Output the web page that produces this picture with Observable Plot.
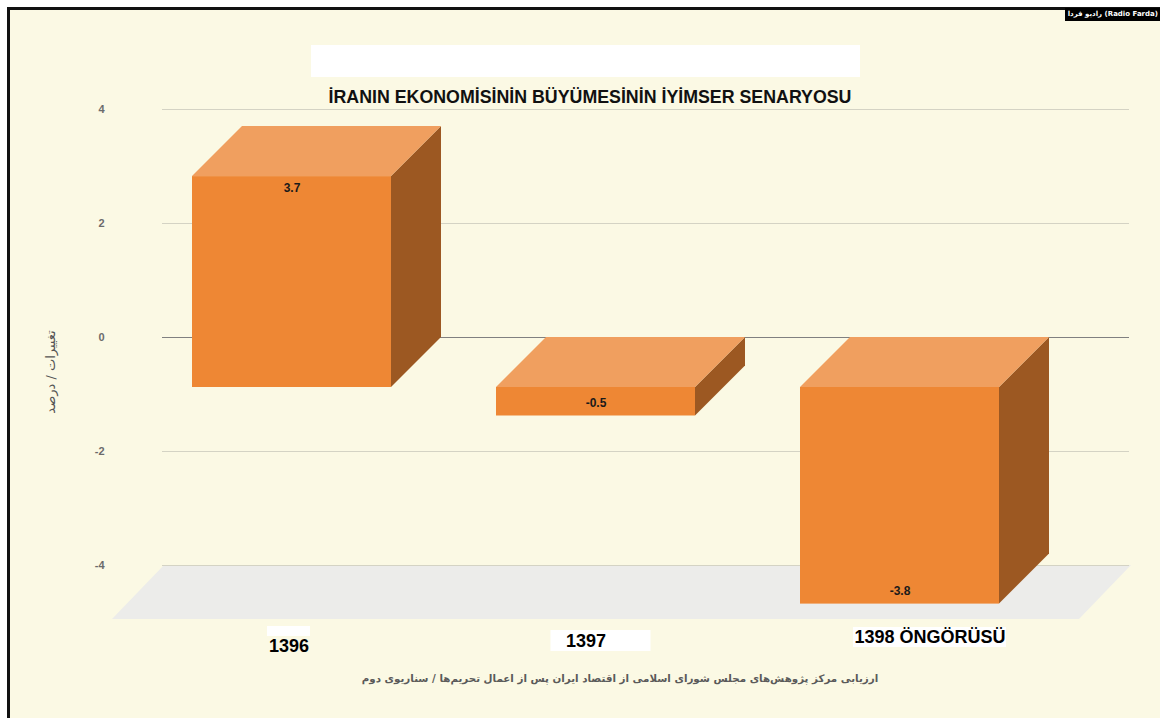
<!DOCTYPE html>
<html>
<head>
<meta charset="utf-8">
<script src="https://cdn.jsdelivr.net/npm/d3@7"></script>
<script src="https://cdn.jsdelivr.net/npm/@observablehq/plot@0.6"></script>
<style>
html, body { margin: 0; padding: 0; background: #ffffff; width: 1160px; height: 718px; overflow: hidden; }
#frame { position: absolute; left: 7px; top: 7px; width: 1153px; height: 711px; box-sizing: border-box;
  border-left: 3px solid #111; border-top: 3px solid #111; background: #FBF9E4; }
#chart { position: absolute; left: 0; top: 0; }
#titlebox { position: absolute; left: 311px; top: 45px; width: 549px; height: 32px; background: #ffffff; }
#title { position: absolute; left: 0; width: 1180px; top: 87px; text-align: center;
  font: bold 17.8px "Liberation Sans", Arial, sans-serif; color: #111; line-height: 20px; }
#caption { position: absolute; left: 0; width: 1240px; top: 669px; text-align: center;
  font: bold 10.3px "DejaVu Sans", sans-serif; color: #5a5a5a; line-height: 18px; }
#ylabel { position: absolute; left: 50px; top: 372px; transform: translate(-50%, -50%) rotate(-90deg);
  font: 13px "DejaVu Sans", sans-serif; color: #555; white-space: nowrap; }
#source { position: absolute; right: 0; top: 8px; height: 13px; padding: 0 2px 0 3px; background: #000;
  color: #fff; font: bold 7px "DejaVu Sans", Arial, sans-serif; line-height: 13px; white-space: nowrap; }
</style>
</head>
<body>
<div id="frame"></div>
<div id="titlebox"></div>
<div id="chart"></div>
<div id="title"></div>
<div id="ylabel" dir="rtl"></div>
<div id="caption" dir="rtl"></div>
<div id="source"></div>
<script>
// ---- data ----
const categories = ["1396", "1397", "1398 ÖNGÖRÜSÜ"];
const growth = [3.7, -0.5, -3.8];
const yTicks = [-4, -2, 0, 2, 4];
const titleText = "İRANIN EKONOMİSİNİN BÜYÜMESİNİN İYİMSER SENARYOSU";
const yLabel = "تغییرات / درصد";
const captionText = "ارزیابی مرکز پژوهش‌های مجلس شورای اسلامی از اقتصاد ایران پس از اعمال تحریم‌ها / سناریوی دوم";
const sourceText = "رادیو فردا (Radio Farda)";

// ---- styling ----
const DEPTH = 50;          // 3D offset of bars
const FLOOR_DX = 52, FLOOR_DY = 54;
const COLORS = { front: "#EE8734", top: "#F09F5F", side: "#9C5822", floor: "#ECECEA", grid: "#D4D3C4", zero: "#808080" };
// label placement / cover boxes (decoration)
const labelStyle = [
  { dx: -3, dy: 86, box: { dx: 0, dy: -25, w: 43, h: 10 } },
  { dx: -10, dy: 81, box: { dx: 15, dy: -16, w: 100, h: 21 } },
  { dx: 30, dy: 77, box: { dx: 0, dy: -15, w: 153, h: 20 } }
];

document.getElementById("title").textContent = titleText;
document.getElementById("caption").textContent = captionText;
document.getElementById("source").textContent = sourceText;
document.getElementById("ylabel").textContent = yLabel;

const data = categories.map((c, i) => ({ category: c, value: growth[i] }));

function bar3d(index, scales, values) {
  const g = d3.create("svg:g");
  const bw = scales.x.bandwidth();
  for (const i of index) {
    const x0 = values.x[i], x1 = x0 + bw;
    const ya = values.y1[i] + DEPTH, yb = values.y2[i] + DEPTH;
    const top = Math.min(ya, yb), bot = Math.max(ya, yb);
    g.append("polygon")
      .attr("points", [[x1, top], [x1 + DEPTH, top - DEPTH], [x1 + DEPTH, bot - DEPTH], [x1, bot]].join(" "))
      .attr("fill", COLORS.side);
    g.append("polygon")
      .attr("points", [[x0, top], [x0 + DEPTH, top - DEPTH], [x1 + DEPTH, top - DEPTH], [x1, top]].join(" "))
      .attr("fill", COLORS.top);
    g.append("rect")
      .attr("x", x0).attr("y", top).attr("width", bw).attr("height", bot - top)
      .attr("fill", COLORS.front);
  }
  return g.node();
}

function floor(index, scales, values, dims) {
  const g = d3.create("svg:g");
  const xl = dims.marginLeft, xr = dims.width - dims.marginRight;
  for (const i of index) {
    const y = values.y[i];
    g.append("polygon")
      .attr("points", [[xl + FLOOR_DX, y], [xr + FLOOR_DX, y], [xr, y + FLOOR_DY], [xl, y + FLOOR_DY]].join(" "))
      .attr("fill", COLORS.floor);
  }
  return g.node();
}

function categoryLabel(k) {
  const st = labelStyle[k];
  return Plot.text([categories[k]], {
    x: d => d, frameAnchor: "bottom", dx: st.dx, dy: st.dy,
    fontSize: 18, fontWeight: "bold", fill: "#000", fontFamily: "Liberation Sans, Arial, sans-serif",
    render(index, scales, values, dims, ctx, next) {
      const wrap = d3.create("svg:g");
      const bw = scales.x.bandwidth();
      for (const i of index) {
        const cx = values.x[i] + bw / 2 + st.dx + st.box.dx;
        const cy = dims.height - dims.marginBottom + st.dy + st.box.dy;
        wrap.append("rect").attr("x", cx - st.box.w / 2).attr("y", cy)
          .attr("width", st.box.w).attr("height", st.box.h).attr("fill", "#fff");
      }
      wrap.node().append(next(index, scales, values, dims, ctx));
      return wrap.node();
    }
  });
}

const chart = Plot.plot({
  width: 1160,
  height: 718,
  marginLeft: 112,
  marginRight: 81,
  marginTop: 109,
  marginBottom: 153,
  style: { background: "transparent", overflow: "visible" },
  x: { type: "band", domain: categories, paddingInner: 0.345, paddingOuter: 0.26, axis: null },
  y: { domain: [d3.min(yTicks), d3.max(yTicks)], axis: null },
  marks: [
    Plot.ruleY([d3.min(yTicks)], { render: floor }),
    Plot.ruleY(yTicks.filter(d => d !== 0), { dx: DEPTH, stroke: COLORS.grid, strokeWidth: 1 }),
    Plot.ruleY([0], { dx: DEPTH, stroke: COLORS.zero, strokeWidth: 1 }),
    Plot.axisY(yTicks, {
      anchor: "left", tickSize: 0, tickPadding: 8, label: null,
      tickFormat: d => String(d), fontSize: 11, fontWeight: "bold", fill: "#6b6b6b",
      fontFamily: "Liberation Sans, Arial, sans-serif"
    }),
    Plot.barY(data, { x: "category", y1: 0, y2: "value", render: bar3d }),
    Plot.text(data, {
      filter: d => d.value > 0, x: "category", y: "value", dy: DEPTH + 12,
      text: d => String(d.value), fontSize: 12, fontWeight: "bold", fill: "#1a1a1a",
      fontFamily: "Liberation Sans, Arial, sans-serif"
    }),
    Plot.text(data, {
      filter: d => d.value < 0, x: "category", y: "value", dy: DEPTH - 13,
      text: d => String(d.value), fontSize: 12, fontWeight: "bold", fill: "#1a1a1a",
      fontFamily: "Liberation Sans, Arial, sans-serif"
    }),
    categoryLabel(0),
    categoryLabel(1),
    categoryLabel(2)
  ]
});
document.getElementById("chart").append(chart);
</script>
</body>
</html>
